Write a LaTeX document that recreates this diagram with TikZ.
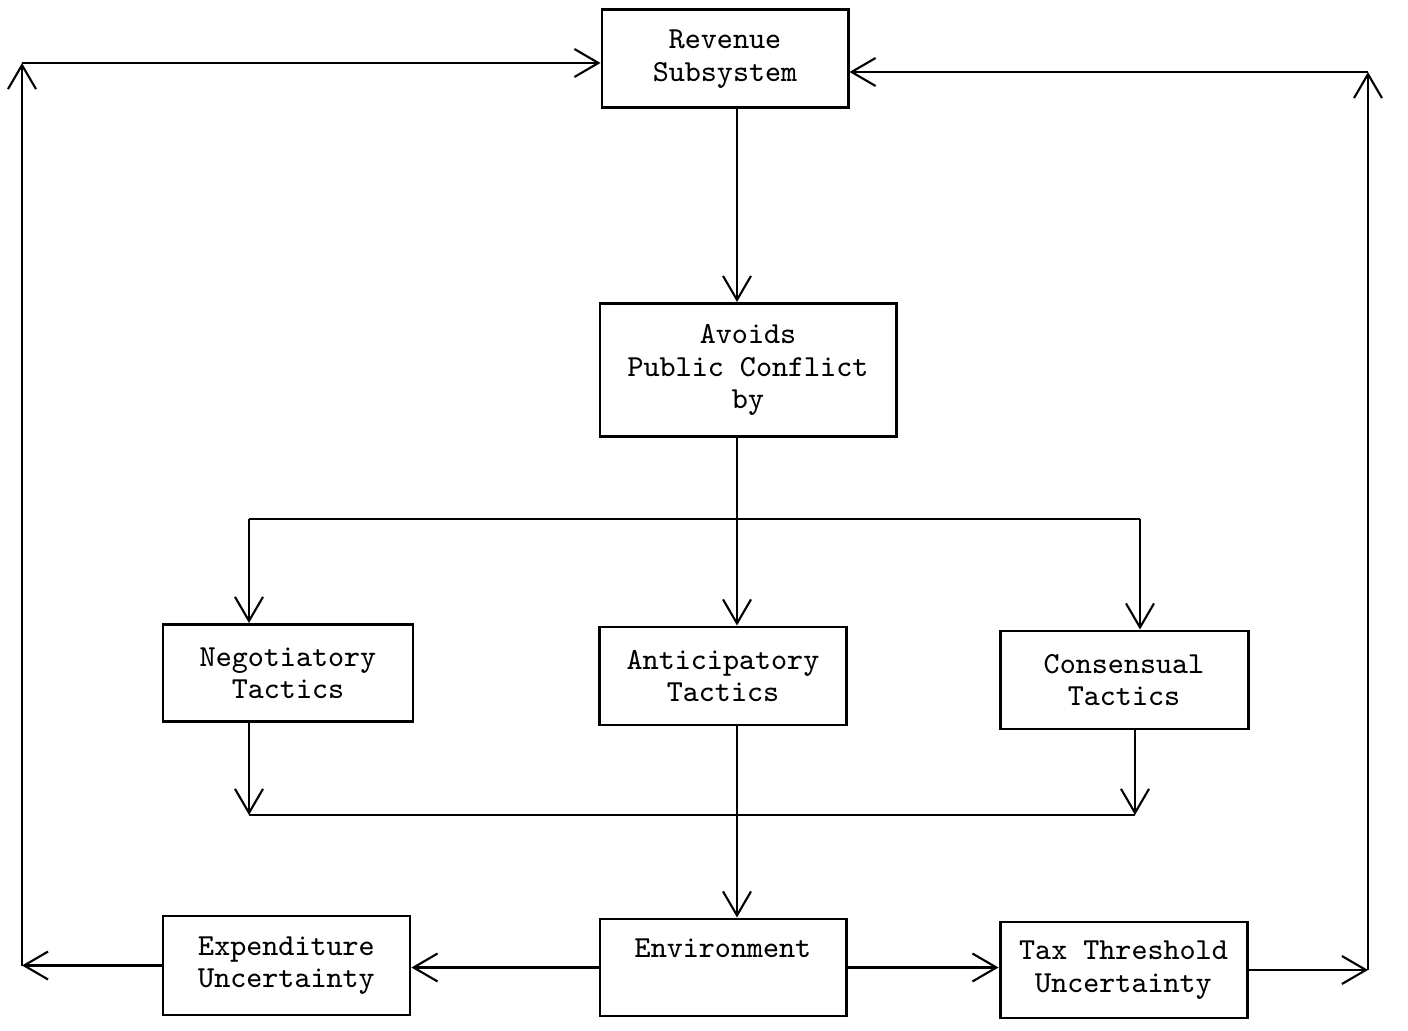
\documentclass[tikz,border=0pt]{standalone}
\usepackage{fontspec}
\usetikzlibrary{arrows.meta}
\tikzset{
  arr/.style={-{Straight Barb[length=2.4mm,width=2.8mm]}},
}
\begin{document}
\begin{tikzpicture}[line width=0.6pt]
		\useasboundingbox (0,0) rectangle (14.08,-10.31);
		\begin{scope}[every node/.style={draw,line width=0.85pt,inner sep=0pt,align=center,font=\fontsize{8.7}{9.2}\selectfont\ttfamily}]
		\node[minimum width=2.46cm,minimum height=0.98cm] (rev) at (7.25,-0.59) {Revenue\\Subsystem};
		\node[minimum width=2.96cm,minimum height=1.33cm] (avoid) at (7.48,-3.70) {Avoids\\Public Conflict\\by};
		\node[minimum width=2.50cm,minimum height=0.97cm] (neg) at (2.88,-6.73) {Negotiatory\\Tactics};
		\node[minimum width=2.47cm,minimum height=0.98cm] (ant) at (7.23,-6.76) {Anticipatory\\Tactics};
		\node[minimum width=2.48cm,minimum height=0.98cm] (cons) at (11.24,-6.80) {Consensual\\Tactics};
		\node[minimum width=2.47cm,minimum height=0.99cm] (exp) at (2.865,-9.655) {Expenditure\\Uncertainty};
		\node[minimum width=2.46cm,minimum height=0.97cm,text height=0.2cm,text depth=0.4cm] (env) at (7.23,-9.675) {Environment};
		\node[minimum width=2.47cm,minimum height=0.96cm] (tax) at (11.235,-9.70) {Tax Threshold\\Uncertainty};
		\end{scope}
		\coordinate (axis) at (7.37,0);
		\coordinate (split) at (7.37,-5.19);
		\coordinate (bl) at (2.49,-5.19);
		\coordinate (br) at (11.40,-5.19);
		\coordinate (cl) at (2.49,-8.15);
		\coordinate (cr) at (11.35,-8.15);
		\coordinate (lt) at (0.22,-0.63);
		\coordinate (lb) at (0.22,-9.65);
		\coordinate (rt) at (13.68,-0.72);
		\coordinate (rb) at (13.68,-9.68);
		\draw[arr] (rev.south -| axis) -- (avoid.north -| axis);
		\draw (avoid.south -| axis) -- (split);
		\draw (bl) -- (br);
		\draw[arr] (split) -- (ant.north -| split);
		\draw[arr] (bl) -- (bl |- neg.north);
		\draw[arr] (br) -- (br |- cons.north);
		\draw[arr] (cl |- neg.south) -- (cl);
		\draw[arr] (cr |- cons.south) -- (cr);
		\draw (cl) -- (cr);
		\draw[arr] (ant.south -| axis) -- (env.north -| axis);
		\draw[arr] (env.west) -- (env.west -| exp.east);
		\draw[arr] (env.east) -- (env.east -| tax.west);
		\draw[arr] (exp.west) -- (exp.west -| lb);
		\draw[arr] (exp.west -| lb) -- (lt);
		\draw[arr] (lt) -- (lt -| rev.west);
		\draw[arr] (tax.east) -- (tax.east -| rb);
		\draw[arr] (tax.east -| rb) -- (rt);
		\draw[arr] (rt) -- (rt -| rev.east);
		\end{tikzpicture}
\end{document}
